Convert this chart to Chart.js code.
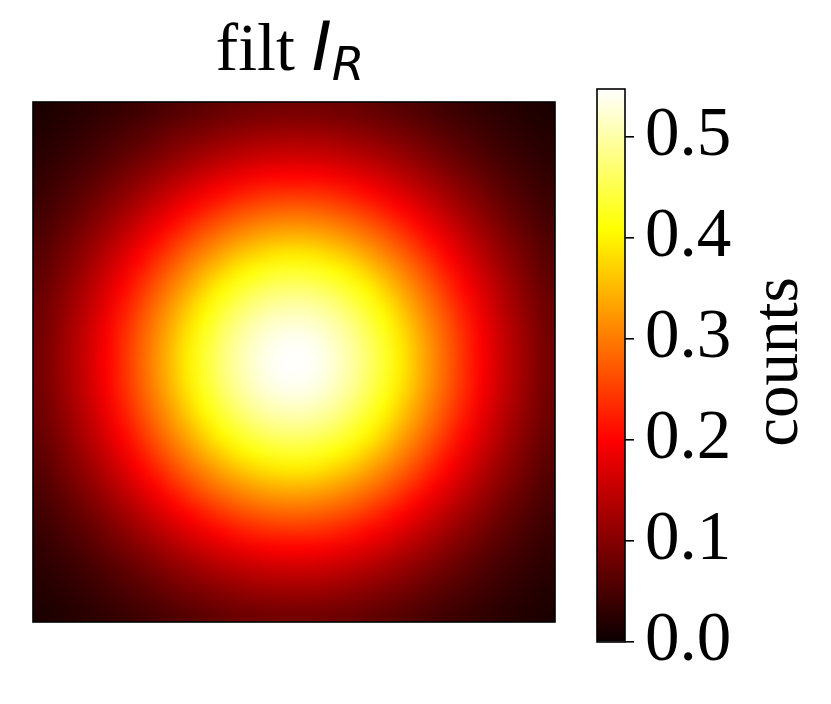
<!DOCTYPE html>
<html>
<head>
<meta charset="utf-8">
<title>filt I_R</title>
<script src="https://cdn.jsdelivr.net/npm/chart.js@4/dist/chart.umd.min.js"></script>
<style>
  html, body { margin: 0; padding: 0; background: #fff; }
  #wrap { position: relative; width: 831px; height: 704px; }
  #wrap canvas { position: absolute; left: 0; top: 0; }
</style>
</head>
<body>
<div id="wrap">
  <canvas id="heat" width="831" height="704"></canvas>
  <canvas id="cbar" width="831" height="704"></canvas>
</div>
<script>
/* global Chart */
'use strict';

/* Data */

// filtered image, 32 x 32 cells, row 0 = top
const counts = [
  [.014,.018,.022,.027,.032,.038,.044,.050,.057,.063,.069,.075,.080,.083,.086,.087,.087,.086,.083,.080,.075,.069,.063,.057,.050,.044,.038,.032,.027,.022,.018,.014],
  [.018,.022,.027,.033,.040,.047,.055,.063,.072,.080,.087,.094,.100,.105,.108,.110,.110,.108,.105,.100,.094,.087,.080,.072,.063,.055,.047,.040,.033,.027,.022,.018],
  [.022,.027,.034,.041,.050,.059,.068,.078,.089,.099,.108,.117,.124,.130,.134,.136,.136,.134,.130,.124,.117,.108,.099,.089,.078,.068,.059,.050,.041,.034,.027,.022],
  [.027,.033,.041,.050,.060,.071,.083,.095,.108,.120,.132,.142,.151,.158,.163,.165,.165,.163,.158,.151,.142,.132,.120,.108,.095,.083,.071,.060,.050,.041,.033,.027],
  [.032,.040,.050,.060,.072,.086,.100,.115,.130,.144,.158,.171,.181,.190,.196,.199,.199,.196,.190,.181,.171,.158,.144,.130,.115,.100,.086,.072,.060,.050,.040,.032],
  [.038,.047,.059,.071,.086,.102,.118,.136,.153,.171,.187,.202,.215,.225,.232,.235,.235,.232,.225,.215,.202,.187,.171,.153,.136,.118,.102,.086,.071,.059,.047,.038],
  [.044,.055,.068,.083,.100,.118,.138,.158,.179,.199,.218,.235,.250,.262,.270,.274,.274,.270,.262,.250,.235,.218,.199,.179,.158,.138,.118,.100,.083,.068,.055,.044],
  [.050,.063,.078,.095,.115,.136,.158,.181,.205,.228,.250,.270,.287,.300,.310,.314,.314,.310,.300,.287,.270,.250,.228,.205,.181,.158,.136,.115,.095,.078,.063,.050],
  [.057,.072,.089,.108,.130,.153,.179,.205,.232,.258,.283,.305,.324,.339,.350,.355,.355,.350,.339,.324,.305,.283,.258,.232,.205,.179,.153,.130,.108,.089,.072,.057],
  [.063,.080,.099,.120,.144,.171,.199,.228,.258,.287,.314,.339,.361,.377,.389,.395,.395,.389,.377,.361,.339,.314,.287,.258,.228,.199,.171,.144,.120,.099,.080,.063],
  [.069,.087,.108,.132,.158,.187,.218,.250,.283,.314,.345,.372,.396,.414,.427,.434,.434,.427,.414,.396,.372,.345,.314,.283,.250,.218,.187,.158,.132,.108,.087,.069],
  [.075,.094,.117,.142,.171,.202,.235,.270,.305,.339,.372,.402,.427,.447,.461,.468,.468,.461,.447,.427,.402,.372,.339,.305,.270,.235,.202,.171,.142,.117,.094,.075],
  [.080,.100,.124,.151,.181,.215,.250,.287,.324,.361,.396,.427,.454,.475,.490,.497,.497,.490,.475,.454,.427,.396,.361,.324,.287,.250,.215,.181,.151,.124,.100,.080],
  [.083,.105,.130,.158,.190,.225,.262,.300,.339,.377,.414,.447,.475,.497,.512,.520,.520,.512,.497,.475,.447,.414,.377,.339,.300,.262,.225,.190,.158,.130,.105,.083],
  [.086,.108,.134,.163,.196,.232,.270,.310,.350,.389,.427,.461,.490,.512,.529,.537,.537,.529,.512,.490,.461,.427,.389,.350,.310,.270,.232,.196,.163,.134,.108,.086],
  [.087,.110,.136,.165,.199,.235,.274,.314,.355,.395,.434,.468,.497,.520,.537,.545,.545,.537,.520,.497,.468,.434,.395,.355,.314,.274,.235,.199,.165,.136,.110,.087],
  [.087,.110,.136,.165,.199,.235,.274,.314,.355,.395,.434,.468,.497,.520,.537,.545,.545,.537,.520,.497,.468,.434,.395,.355,.314,.274,.235,.199,.165,.136,.110,.087],
  [.086,.108,.134,.163,.196,.232,.270,.310,.350,.389,.427,.461,.490,.512,.529,.537,.537,.529,.512,.490,.461,.427,.389,.350,.310,.270,.232,.196,.163,.134,.108,.086],
  [.083,.105,.130,.158,.190,.225,.262,.300,.339,.377,.414,.447,.475,.497,.512,.520,.520,.512,.497,.475,.447,.414,.377,.339,.300,.262,.225,.190,.158,.130,.105,.083],
  [.080,.100,.124,.151,.181,.215,.250,.287,.324,.361,.396,.427,.454,.475,.490,.497,.497,.490,.475,.454,.427,.396,.361,.324,.287,.250,.215,.181,.151,.124,.100,.080],
  [.075,.094,.117,.142,.171,.202,.235,.270,.305,.339,.372,.402,.427,.447,.461,.468,.468,.461,.447,.427,.402,.372,.339,.305,.270,.235,.202,.171,.142,.117,.094,.075],
  [.069,.087,.108,.132,.158,.187,.218,.250,.283,.314,.345,.372,.396,.414,.427,.434,.434,.427,.414,.396,.372,.345,.314,.283,.250,.218,.187,.158,.132,.108,.087,.069],
  [.063,.080,.099,.120,.144,.171,.199,.228,.258,.287,.314,.339,.361,.377,.389,.395,.395,.389,.377,.361,.339,.314,.287,.258,.228,.199,.171,.144,.120,.099,.080,.063],
  [.057,.072,.089,.108,.130,.153,.179,.205,.232,.258,.283,.305,.324,.339,.350,.355,.355,.350,.339,.324,.305,.283,.258,.232,.205,.179,.153,.130,.108,.089,.072,.057],
  [.050,.063,.078,.095,.115,.136,.158,.181,.205,.228,.250,.270,.287,.300,.310,.314,.314,.310,.300,.287,.270,.250,.228,.205,.181,.158,.136,.115,.095,.078,.063,.050],
  [.044,.055,.068,.083,.100,.118,.138,.158,.179,.199,.218,.235,.250,.262,.270,.274,.274,.270,.262,.250,.235,.218,.199,.179,.158,.138,.118,.100,.083,.068,.055,.044],
  [.038,.047,.059,.071,.086,.102,.118,.136,.153,.171,.187,.202,.215,.225,.232,.235,.235,.232,.225,.215,.202,.187,.171,.153,.136,.118,.102,.086,.071,.059,.047,.038],
  [.032,.040,.050,.060,.072,.086,.100,.115,.130,.144,.158,.171,.181,.190,.196,.199,.199,.196,.190,.181,.171,.158,.144,.130,.115,.100,.086,.072,.060,.050,.040,.032],
  [.027,.033,.041,.050,.060,.071,.083,.095,.108,.120,.132,.142,.151,.158,.163,.165,.165,.163,.158,.151,.142,.132,.120,.108,.095,.083,.071,.060,.050,.041,.033,.027],
  [.022,.027,.034,.041,.050,.059,.068,.078,.089,.099,.108,.117,.124,.130,.134,.136,.136,.134,.130,.124,.117,.108,.099,.089,.078,.068,.059,.050,.041,.034,.027,.022],
  [.018,.022,.027,.033,.040,.047,.055,.063,.072,.080,.087,.094,.100,.105,.108,.110,.110,.108,.105,.100,.094,.087,.080,.072,.063,.055,.047,.040,.033,.027,.022,.018],
  [.014,.018,.022,.027,.032,.038,.044,.050,.057,.063,.069,.075,.080,.083,.086,.087,.087,.086,.083,.080,.075,.069,.063,.057,.050,.044,.038,.032,.027,.022,.018,.014]
];

// colour scale limits and colorbar ticks
const vmin = 0;
const vmax = 0.547;
const cbarTicks = [0.0, 0.1, 0.2, 0.3, 0.4, 0.5];

// texts
const titleText = 'filt ';
const titleMath = 'I';
const titleSub = 'R';
const cbarLabel = 'counts';


/* matplotlib 'hot' colormap */

function hotParts(t) {
  t = Math.max(0, Math.min(1, t));
  const r = t < 0.365079 ? 0.0416 + (1 - 0.0416) * t / 0.365079 : 1;
  const g = t < 0.365079 ? 0 : (t < 0.746032 ? (t - 0.365079) / (0.746032 - 0.365079) : 1);
  const b = t < 0.746032 ? 0 : (t - 0.746032) / (1 - 0.746032);
  return [Math.round(r * 255), Math.round(g * 255), Math.round(b * 255)];
}

function hotRGB(t) {
  return 'rgb(' + hotParts(t).join(',') + ')';
}

const nRows = counts.length;
const nCols = counts[0].length;

const cells = [];
counts.forEach(function(row, r) {
  row.forEach(function(v, c) {
    cells.push({ x: c + 0.5, y: r + 0.5, v: v });
  });
});


/* Heatmap */

// every cell becomes one pixel of a small image, which is then drawn
// into the plot area (bilinear, like imshow with interpolation)
const heatmapPlugin = {
  id: 'heatmap',
  beforeDatasetsDraw(chart) {
    const ctx = chart.ctx;
    const xs = chart.scales.x;
    const ys = chart.scales.y;
    const img = document.createElement('canvas');
    img.width = nCols;
    img.height = nRows;
    const ictx = img.getContext('2d');
    const pix = ictx.createImageData(nCols, nRows);
    chart.data.datasets[0].data.forEach(function(p) {
      const i = ((p.y - 0.5) * nCols + (p.x - 0.5)) * 4;
      const c = hotParts((p.v - vmin) / (vmax - vmin));
      pix.data[i] = c[0];
      pix.data[i + 1] = c[1];
      pix.data[i + 2] = c[2];
      pix.data[i + 3] = 255;
    });
    ictx.putImageData(pix, 0, 0);

    const x0 = xs.getPixelForValue(0);
    const x1 = xs.getPixelForValue(nCols);
    const y0 = ys.getPixelForValue(0);
    const y1 = ys.getPixelForValue(nRows);
    ctx.save();
    ctx.imageSmoothingEnabled = true;
    ctx.imageSmoothingQuality = 'high';
    ctx.drawImage(img, x0, y0, x1 - x0, y1 - y0);
    ctx.restore();
  },
  afterDraw(chart) {
    const ctx = chart.ctx;
    const a = chart.chartArea;
    ctx.save();
    ctx.strokeStyle = '#000';
    ctx.lineWidth = 1.6;
    ctx.strokeRect(a.left, a.top, a.right - a.left, a.bottom - a.top);

    // title: "filt" in serif, I_R as mathtext italic
    const serif = '68px "Liberation Serif"';
    const math = 'italic 68px "DejaVu Sans"';
    const sub = 'italic 47px "DejaVu Sans"';
    ctx.fillStyle = '#000';
    ctx.textBaseline = 'alphabetic';
    ctx.textAlign = 'left';
    ctx.font = serif; const w1 = ctx.measureText(titleText).width;
    ctx.font = math; const w2 = ctx.measureText(titleMath).width;
    ctx.font = sub; const w3 = ctx.measureText(titleSub).width;
    let x = (a.left + a.right) / 2 - 4 - (w1 + w2 + w3) / 2;
    const base = 70;
    ctx.font = serif; ctx.fillText(titleText, x, base); x += w1;
    ctx.font = math; ctx.fillText(titleMath, x, base); x += w2;
    ctx.font = sub; ctx.fillText(titleSub, x, base + 10);
    ctx.restore();
  }
};

const heatChart = new Chart(document.getElementById('heat'), {
  type: 'scatter',
  data: {
    datasets: [{ data: cells, pointRadius: 0, pointHoverRadius: 0 }]
  },
  options: {
    responsive: false,
    animation: false,
    events: [],
    layout: { padding: { left: 33, top: 102, right: 276, bottom: 82 } },
    plugins: { legend: { display: false }, tooltip: { enabled: false } },
    scales: {
      x: { type: 'linear', min: 0, max: nCols, display: false },
      y: { type: 'linear', min: 0, max: nRows, reverse: true, display: false }
    }
  },
  plugins: [heatmapPlugin]
});


/* Colorbar */

function hotGradient(chart) {
  const ys = chart.scales.y;
  if (!chart.chartArea || !ys) return '#000';
  const yb = ys.getPixelForValue(vmin);
  const yt = ys.getPixelForValue(vmax);
  if (!isFinite(yb) || !isFinite(yt)) return '#000';
  const g = chart.ctx.createLinearGradient(0, yb, 0, yt);
  [0, 0.365079, 0.746032, 1].forEach(function(s) {
    g.addColorStop(s, hotRGB(s));
  });
  return g;
}

const cbarPlugin = {
  id: 'cbarFrame',
  afterDraw(chart) {
    const ctx = chart.ctx;
    const a = chart.chartArea;
    ctx.save();
    ctx.strokeStyle = '#000';
    ctx.lineWidth = 1.6;
    ctx.strokeRect(a.left, a.top, a.right - a.left, a.bottom - a.top);
    // rotated label, reading bottom to top
    ctx.translate(797, 362);
    ctx.rotate(-Math.PI / 2);
    ctx.font = '65px "Liberation Serif"';
    ctx.fillStyle = '#000';
    ctx.textAlign = 'center';
    ctx.textBaseline = 'alphabetic';
    ctx.fillText(cbarLabel, 0, 0);
    ctx.restore();
  }
};

const cbarChart = new Chart(document.getElementById('cbar'), {
  type: 'bar',
  data: {
    labels: [cbarLabel],
    datasets: [{
      data: [vmax],
      backgroundColor: function(c) { return hotGradient(c.chart); },
      borderWidth: 0,
      barPercentage: 1,
      categoryPercentage: 1
    }]
  },
  options: {
    responsive: false,
    animation: false,
    events: [],
    layout: { padding: { left: 597, top: 89, right: 0, bottom: 62 } },
    plugins: { legend: { display: false }, tooltip: { enabled: false } },
    scales: {
      x: { display: false },
      y: {
        position: 'right',
        min: vmin,
        max: vmax,
        afterBuildTicks: function(axis) {
          axis.ticks = cbarTicks.map(function(v) { return { value: v }; });
        },
        afterFit: function(axis) { axis.width = 831 - 625; },
        border: { display: false },
        grid: { drawOnChartArea: false, drawTicks: true, tickLength: 9, color: '#000', lineWidth: 1.6 },
        ticks: {
          color: '#000',
          padding: 11,
          font: { family: 'Liberation Serif', size: 69 },
          callback: function(v) { return Number(v).toFixed(1); }
        }
      }
    }
  },
  plugins: [cbarPlugin]
});
</script>
</body>
</html>
